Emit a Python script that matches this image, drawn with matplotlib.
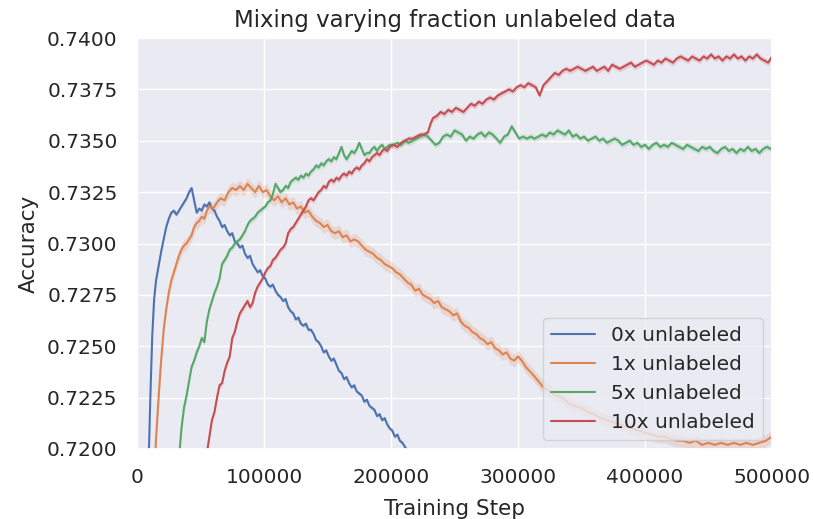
import matplotlib
matplotlib.use("Agg")
import matplotlib.pyplot as plt
import seaborn as sns
import numpy as np
from matplotlib.ticker import FormatStrFormatter

# ---------------- data ----------------
labels = ["0x unlabeled", "1x unlabeled", "5x unlabeled", "10x unlabeled"]

steps_0x = [6000, 9000, 10500, 12000, 13500, 15000, 17000, 19000, 21000, 23000,
            25000, 27000, 29000, 31000, 33000, 35000, 37000, 39000, 41000, 43000,
            45000, 47000, 49000, 51000, 53000, 55000, 57000, 59000, 61000, 63000,
            65000, 67000, 69000, 71000, 73000, 75000, 77000, 79000, 81000, 83000,
            85000, 87000, 89000, 91000, 93000, 95000, 97000, 99000, 101000, 103000,
            105000, 107000, 109000, 111000, 113000, 115000, 117000, 119000, 121000, 123000,
            125000, 127000, 129000, 131000, 133000, 135000, 137000, 139000, 141000, 143000,
            145000, 147000, 149000, 151000, 153000, 155000, 157000, 159000, 161000, 163000,
            165000, 167000, 169000, 171000, 173000, 175000, 177000, 179000, 181000, 183000,
            185000, 187000, 189000, 191000, 193000, 195000, 197000, 199000, 201000, 203000,
            205000, 207000, 209000, 211000, 213000]
acc_0x = [0.7120, 0.7190, 0.7225, 0.7255, 0.7273, 0.7282, 0.7289, 0.7296, 0.7302, 0.7308,
          0.7312, 0.7315, 0.7316, 0.7314, 0.7316, 0.7318, 0.7320, 0.7322, 0.7325, 0.7327,
          0.7321, 0.7315, 0.7317, 0.7316, 0.7319, 0.7318, 0.7320, 0.7317, 0.7316, 0.7313,
          0.7311, 0.7308, 0.7309, 0.7306, 0.7304, 0.7305, 0.7301, 0.7300, 0.7298, 0.7299,
          0.7295, 0.7293, 0.7294, 0.7290, 0.7288, 0.7286, 0.7287, 0.7284, 0.7283, 0.7280,
          0.7279, 0.7280, 0.7277, 0.7275, 0.7274, 0.7272, 0.7273, 0.7269, 0.7267, 0.7266,
          0.7263, 0.7264, 0.7261, 0.7260, 0.7261, 0.7258, 0.7258, 0.7256, 0.7253, 0.7252,
          0.7250, 0.7247, 0.7248, 0.7245, 0.7243, 0.7244, 0.7241, 0.7238, 0.7237, 0.7234,
          0.7235, 0.7232, 0.7230, 0.7231, 0.7228, 0.7227, 0.7226, 0.7223, 0.7224, 0.7221,
          0.7220, 0.7219, 0.7216, 0.7217, 0.7214, 0.7215, 0.7212, 0.7210, 0.7209, 0.7206,
          0.7207, 0.7204, 0.7203, 0.7201, 0.7199]

steps_1x = [10000, 13000, 15000, 17000, 19000, 21000, 23000, 25000, 27000, 29000,
            31000, 33000, 35000, 37000, 39000, 41000, 43000, 45000, 47000, 49000,
            51000, 53000, 55000, 57000, 60000, 63000, 66000, 69000, 72000, 75000,
            78000, 81000, 84000, 87000, 90000, 93000, 96000, 99000, 102000, 105000,
            108000, 111000, 114000, 117000, 120000, 123000, 126000, 129000, 132000, 135000,
            138000, 141000, 144000, 147000, 150000, 153000, 156000, 159000, 162000, 165000,
            168000, 171000, 174000, 177000, 180000, 183000, 186000, 189000, 192000, 195000,
            198000, 201000, 204000, 207000, 210000, 213000, 216000, 219000, 222000, 225000,
            228000, 231000, 234000, 237000, 240000, 243000, 246000, 249000, 252000, 255000,
            258000, 261000, 264000, 267000, 270000, 273000, 276000, 279000, 282000, 285000,
            288000, 291000, 294000, 297000, 300000, 303000, 306000, 309000, 312000, 316000,
            320000, 325000, 330000, 335000, 340000, 345000, 350000, 355000, 360000, 365000,
            370000, 375000, 380000, 385000, 390000, 395000, 400000, 405000, 410000, 415000,
            420000, 425000, 430000, 435000, 440000, 445000, 450000, 455000, 460000, 465000,
            470000, 475000, 480000, 485000, 490000, 495000, 500000]
acc_1x = [0.7130, 0.7180, 0.7205, 0.7225, 0.7243, 0.7258, 0.7268, 0.7276, 0.7282, 0.7286,
          0.7290, 0.7294, 0.7297, 0.7299, 0.7300, 0.7302, 0.7304, 0.7308, 0.7310, 0.7311,
          0.7313, 0.7312, 0.7316, 0.7318, 0.7317, 0.7320, 0.7322, 0.7321, 0.7325, 0.7327,
          0.7326, 0.7328, 0.7326, 0.7329, 0.7327, 0.7325, 0.7328, 0.7325, 0.7326, 0.7323,
          0.7321, 0.7323, 0.7320, 0.7322, 0.7319, 0.7320, 0.7317, 0.7318, 0.7315, 0.7316,
          0.7313, 0.7311, 0.7310, 0.7308, 0.7309, 0.7306, 0.7305, 0.7306, 0.7303, 0.7304,
          0.7301, 0.7302, 0.7301, 0.7299, 0.7297, 0.7296, 0.7295, 0.7293, 0.7292, 0.7290,
          0.7289, 0.7288, 0.7286, 0.7285, 0.7283, 0.7281, 0.7280, 0.7277, 0.7278, 0.7275,
          0.7274, 0.7273, 0.7271, 0.7272, 0.7269, 0.7268, 0.7267, 0.7265, 0.7266, 0.7262,
          0.7260, 0.7259, 0.7257, 0.7256, 0.7254, 0.7253, 0.7251, 0.7252, 0.7249, 0.7248,
          0.7246, 0.7247, 0.7244, 0.7243, 0.7245, 0.7243, 0.7240, 0.7238, 0.7236, 0.7233,
          0.7230, 0.7228, 0.7226, 0.7225, 0.7222, 0.7221, 0.7220, 0.7218, 0.7217, 0.7215,
          0.7214, 0.7213, 0.7212, 0.7211, 0.7210, 0.7209, 0.7208, 0.7207, 0.7206, 0.7206,
          0.7205, 0.7204, 0.7204, 0.7203, 0.7204, 0.7202, 0.7203, 0.7202, 0.7203, 0.7202,
          0.7203, 0.7202, 0.7203, 0.7202, 0.7203, 0.7204, 0.7206]

steps_5x = [30000, 33000, 35000, 37000, 39000, 41000, 43000, 45000, 47000, 49000,
            51000, 53000, 55000, 57000, 59000, 61000, 63000, 65000, 67000, 69000,
            71000, 73000, 75000, 77000, 79000, 81000, 83000, 85000, 87000, 89000,
            91000, 93000, 95000, 97000, 99000, 101000, 103000, 105000, 107000, 109000,
            111000, 113000, 115000, 117000, 119000, 121000, 123000, 125000, 127000, 129000,
            131000, 133000, 135000, 137000, 139000, 141000, 143000, 145000, 147000, 149000,
            151000, 153000, 155000, 157000, 159000, 161000, 163000, 165000, 167000, 169000,
            171000, 173000, 175000, 177000, 179000, 181000, 183000, 185000, 187000, 189000,
            191000, 193000, 195000, 197000, 199000, 202000, 205000, 208000, 211000, 214000,
            217000, 220000, 223000, 226000, 229000, 232000, 235000, 238000, 241000, 244000,
            247000, 250000, 253000, 256000, 259000, 262000, 265000, 268000, 271000, 274000,
            277000, 280000, 283000, 286000, 289000, 292000, 295000, 298000, 301000, 304000,
            307000, 310000, 313000, 316000, 319000, 322000, 325000, 328000, 331000, 334000,
            337000, 340000, 343000, 346000, 349000, 352000, 355000, 358000, 361000, 364000,
            367000, 370000, 373000, 376000, 379000, 382000, 385000, 388000, 391000, 394000,
            397000, 400000, 403000, 406000, 409000, 412000, 415000, 418000, 421000, 424000,
            427000, 430000, 433000, 436000, 439000, 442000, 445000, 448000, 451000, 454000,
            457000, 460000, 463000, 466000, 469000, 472000, 475000, 478000, 481000, 484000,
            487000, 490000, 493000, 496000, 499000]
acc_5x = [0.7175, 0.7195, 0.7210, 0.7220, 0.7226, 0.7233, 0.7240, 0.7243, 0.7247, 0.7250,
          0.7254, 0.7252, 0.7262, 0.7268, 0.7272, 0.7276, 0.7279, 0.7283, 0.7290, 0.7292,
          0.7294, 0.7297, 0.7298, 0.7300, 0.7301, 0.7302, 0.7304, 0.7306, 0.7309, 0.7311,
          0.7312, 0.7313, 0.7315, 0.7316, 0.7317, 0.7318, 0.7320, 0.7321, 0.7324, 0.7329,
          0.7327, 0.7325, 0.7326, 0.7328, 0.7327, 0.7330, 0.7331, 0.7332, 0.7331, 0.7333,
          0.7332, 0.7334, 0.7333, 0.7335, 0.7336, 0.7338, 0.7337, 0.7339, 0.7338, 0.7340,
          0.7341, 0.7340, 0.7342, 0.7341, 0.7344, 0.7347, 0.7343, 0.7341, 0.7343, 0.7345,
          0.7344, 0.7346, 0.7349, 0.7346, 0.7343, 0.7344, 0.7344, 0.7346, 0.7347, 0.7345,
          0.7347, 0.7348, 0.7346, 0.7347, 0.7348, 0.7348, 0.7349, 0.7348, 0.7350, 0.7349,
          0.7350, 0.7351, 0.7352, 0.7353, 0.7352, 0.7350, 0.7348, 0.7349, 0.7352, 0.7353,
          0.7352, 0.7355, 0.7354, 0.7353, 0.7350, 0.7352, 0.7351, 0.7353, 0.7354, 0.7352,
          0.7354, 0.7353, 0.7351, 0.7349, 0.7352, 0.7353, 0.7357, 0.7354, 0.7351, 0.7352,
          0.7351, 0.7352, 0.7351, 0.7352, 0.7353, 0.7352, 0.7354, 0.7353, 0.7355, 0.7354,
          0.7353, 0.7355, 0.7352, 0.7353, 0.7351, 0.7352, 0.7350, 0.7351, 0.7352, 0.7350,
          0.7351, 0.7349, 0.7350, 0.7351, 0.7350, 0.7348, 0.7349, 0.7350, 0.7348, 0.7349,
          0.7347, 0.7348, 0.7346, 0.7348, 0.7349, 0.7347, 0.7348, 0.7347, 0.7349, 0.7348,
          0.7347, 0.7346, 0.7348, 0.7347, 0.7346, 0.7345, 0.7347, 0.7346, 0.7347, 0.7345,
          0.7344, 0.7346, 0.7347, 0.7345, 0.7346, 0.7344, 0.7346, 0.7345, 0.7347, 0.7345,
          0.7346, 0.7344, 0.7346, 0.7347, 0.7346]

steps_10x = [52000, 55000, 57000, 59000, 61000, 63000, 65000, 67000, 69000, 71000,
             73000, 75000, 77000, 79000, 81000, 83000, 85000, 87000, 89000, 91000,
             93000, 95000, 97000, 99000, 101000, 103000, 105000, 107000, 109000, 111000,
             113000, 115000, 117000, 119000, 121000, 123000, 125000, 127000, 129000, 131000,
             133000, 135000, 137000, 139000, 141000, 143000, 145000, 147000, 149000, 151000,
             153000, 155000, 157000, 159000, 161000, 163000, 165000, 167000, 169000, 171000,
             173000, 175000, 177000, 179000, 181000, 183000, 185000, 187000, 189000, 191000,
             193000, 195000, 197000, 199000, 202000, 205000, 208000, 211000, 214000, 217000,
             220000, 223000, 226000, 229000, 231000, 233000, 236000, 239000, 242000, 245000,
             248000, 251000, 254000, 257000, 260000, 263000, 266000, 269000, 272000, 275000,
             278000, 281000, 284000, 287000, 290000, 293000, 296000, 299000, 302000, 305000,
             308000, 311000, 314000, 317000, 320000, 323000, 326000, 329000, 332000, 335000,
             338000, 341000, 344000, 347000, 350000, 353000, 356000, 359000, 362000, 365000,
             368000, 371000, 374000, 377000, 380000, 383000, 386000, 389000, 392000, 395000,
             398000, 401000, 404000, 407000, 410000, 413000, 416000, 419000, 422000, 425000,
             428000, 431000, 434000, 437000, 440000, 443000, 446000, 449000, 452000, 455000,
             458000, 461000, 464000, 467000, 470000, 473000, 476000, 479000, 482000, 485000,
             488000, 491000, 494000, 497000, 500000]
acc_10x = [0.7185, 0.7198, 0.7206, 0.7214, 0.7218, 0.7225, 0.7231, 0.7232, 0.7238, 0.7242,
           0.7245, 0.7254, 0.7257, 0.7262, 0.7266, 0.7268, 0.7270, 0.7272, 0.7269, 0.7271,
           0.7276, 0.7279, 0.7281, 0.7283, 0.7286, 0.7288, 0.7289, 0.7292, 0.7293, 0.7295,
           0.7297, 0.7298, 0.7300, 0.7305, 0.7307, 0.7308, 0.7310, 0.7312, 0.7314, 0.7316,
           0.7318, 0.7321, 0.7322, 0.7321, 0.7323, 0.7325, 0.7326, 0.7328, 0.7327, 0.7330,
           0.7331, 0.7330, 0.7332, 0.7331, 0.7333, 0.7334, 0.7333, 0.7335, 0.7334, 0.7336,
           0.7337, 0.7336, 0.7338, 0.7339, 0.7341, 0.7340, 0.7342, 0.7343, 0.7344, 0.7343,
           0.7345, 0.7346, 0.7345, 0.7347, 0.7348, 0.7347, 0.7349, 0.7350, 0.7351, 0.7351,
           0.7352, 0.7353, 0.7353, 0.7354, 0.7358, 0.7361, 0.7362, 0.7364, 0.7363, 0.7365,
           0.7364, 0.7366, 0.7365, 0.7364, 0.7366, 0.7368, 0.7367, 0.7369, 0.7368, 0.7370,
           0.7371, 0.7370, 0.7372, 0.7373, 0.7374, 0.7375, 0.7374, 0.7376, 0.7377, 0.7376,
           0.7378, 0.7377, 0.7376, 0.7372, 0.7377, 0.7379, 0.7381, 0.7383, 0.7382, 0.7384,
           0.7385, 0.7384, 0.7385, 0.7386, 0.7385, 0.7384, 0.7385, 0.7386, 0.7384, 0.7385,
           0.7386, 0.7384, 0.7387, 0.7386, 0.7385, 0.7386, 0.7387, 0.7388, 0.7386, 0.7387,
           0.7388, 0.7389, 0.7388, 0.7387, 0.7389, 0.7388, 0.7390, 0.7389, 0.7388, 0.7390,
           0.7391, 0.7390, 0.7389, 0.7391, 0.7390, 0.7389, 0.7391, 0.7390, 0.7392, 0.7390,
           0.7391, 0.7389, 0.7391, 0.7390, 0.7392, 0.7390, 0.7391, 0.7389, 0.7391, 0.7390,
           0.7392, 0.7390, 0.7389, 0.7388, 0.7391]

# half-width of the shaded confidence band for each series
band_halfwidth = [0.00010, 0.00030, 0.00015, 0.00015]

title = "Mixing varying fraction unlabeled data"
xlabel = "Training Step"
ylabel = "Accuracy"
xticks = [0, 100000, 200000, 300000, 400000, 500000]
yticks = [0.7200, 0.7225, 0.7250, 0.7275, 0.7300, 0.7325, 0.7350, 0.7375, 0.7400]

# ---------------- plotting ----------------
sns.set_theme(style="darkgrid")
plt.rcParams["font.family"] = ["DejaVu Sans"]

colors = ["#4C72B0", "#DD8452", "#55A868", "#C44E52"]
series = [(steps_0x, acc_0x), (steps_1x, acc_1x), (steps_5x, acc_5x), (steps_10x, acc_10x)]

fig = plt.figure(figsize=(8.13, 5.19), dpi=100)
ax = fig.add_axes([137 / 813, 1 - 449 / 519, (772 - 137) / 813, (449 - 38) / 519])

for (xs, ys), lab, col, hw in zip(series, labels, colors, band_halfwidth):
    xs = np.asarray(xs)
    ys = np.asarray(ys)
    ax.fill_between(xs, ys - hw, ys + hw, color=col, alpha=0.2, linewidth=0)
    ax.plot(xs, ys, color=col, lw=1.5, label=lab)

ax.set_xlim(0, 500000)
ax.set_ylim(0.72, 0.74)
ax.set_xticks(xticks)
ax.set_yticks(yticks)
ax.yaxis.set_major_formatter(FormatStrFormatter("%.4f"))
ax.tick_params(axis="both", length=0, labelsize=14.5, colors="#262626")
ax.tick_params(axis="y", pad=14)
ax.tick_params(axis="x", pad=14)

ax.set_title(title, fontsize=16.5, pad=8, color="#262626")
ax.set_xlabel(xlabel, fontsize=15.5, labelpad=8, color="#262626")
ax.set_ylabel(ylabel, fontsize=15.5, labelpad=6, color="#262626")

ax.legend(loc="lower right", fontsize=14.5, frameon=True, handlelength=2.2,
          borderaxespad=0.45)

fig.savefig("out.png", dpi=100)
